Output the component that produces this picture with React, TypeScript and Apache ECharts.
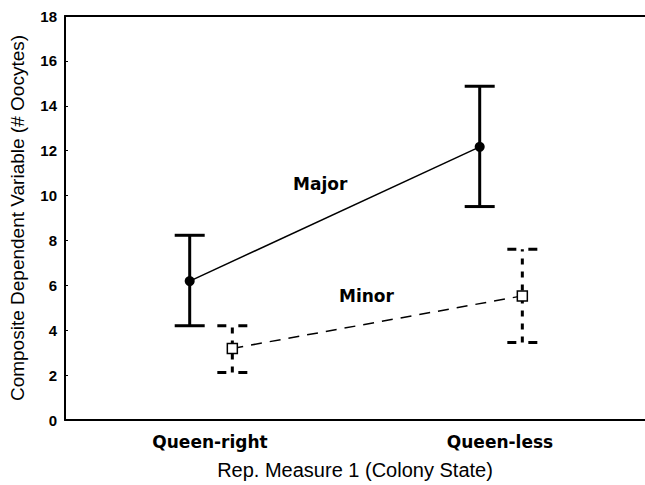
import React, { useEffect, useRef } from "react";
import * as echarts from "echarts";

const categories = ["Queen-right", "Queen-less"];
const majorMean = [6.19, 12.17];
const majorLow = [4.2, 9.51];
const majorHigh = [8.23, 14.87];
const minorMean = [3.19, 5.53];
const minorLow = [2.12, 3.45];
const minorHigh = [4.2, 7.61];
const majorOffset = -0.07;
const minorOffset = 0.077;
const yTicks = [0, 2, 4, 6, 8, 10, 12, 14, 16, 18];

export default function App() {
  const ref = useRef<HTMLDivElement>(null);
  useEffect(() => {
    document.body.style.margin = "0";
    const chart = echarts.init(ref.current!, null, { renderer: "svg" });
    const majorPts = majorMean.map((v, i) => [i + majorOffset, v]);
    const minorPts = minorMean.map((v, i) => [i + minorOffset, v]);
    const majorBars = majorMean.map((_, i) => [i + majorOffset, majorLow[i], majorHigh[i]]);
    const minorBars = minorMean.map((_, i) => [i + minorOffset, minorLow[i], minorHigh[i]]);
    const errRender = (dashed: boolean) => (params: any, api: any) => {
      const x = api.value(0);
      const lo = api.coord([x, api.value(1)]);
      const hi = api.coord([x, api.value(2)]);
      const half = 15;
      const style: any = { stroke: "#000", lineWidth: 3 };
      const capStyle: any = { stroke: "#000", lineWidth: 3 };
      if (dashed) {
        style.lineDash = [6, 7];
        capStyle.lineDash = [9, 12];
      }
      return {
        type: "group",
        children: [
          { type: "line", shape: { x1: lo[0], y1: lo[1], x2: hi[0], y2: hi[1] }, style },
          { type: "line", shape: { x1: hi[0] - half, y1: hi[1], x2: hi[0] + half, y2: hi[1] }, style: capStyle },
          { type: "line", shape: { x1: lo[0] - half, y1: lo[1], x2: lo[0] + half, y2: lo[1] }, style: capStyle },
        ],
      };
    };
    chart.setOption({
      animation: false,
      backgroundColor: "#fff",
      grid: { left: 65, right: 0, top: 16, bottom: 62, containLabel: false },
      xAxis: [
        {
          type: "category",
          data: categories,
          position: "bottom",
          boundaryGap: true,
          axisLine: { lineStyle: { color: "#000", width: 2 } },
          axisTick: { inside: true, length: 3, alignWithLabel: true, lineStyle: { color: "#000" } },
          axisLabel: {
            color: "#000",
            fontFamily: "DejaVu Sans",
            fontWeight: "bold",
            fontSize: 17,
            margin: 13,
          },
          name: "Rep. Measure 1 (Colony State)",
          nameLocation: "middle",
          nameGap: 40,
          nameTextStyle: { color: "#000", fontFamily: "Liberation Sans", fontSize: 20 },
        },
        {
          type: "category",
          data: categories,
          position: "top",
          boundaryGap: true,
          axisLine: { lineStyle: { color: "#000", width: 2 } },
          axisTick: { inside: true, length: 3, alignWithLabel: true, lineStyle: { color: "#000" } },
          axisLabel: { show: false },
        },
        {
          type: "value",
          min: -0.5,
          max: 1.5,
          show: false,
        },
      ],
      yAxis: {
        type: "value",
        min: yTicks[0],
        max: yTicks[yTicks.length - 1],
        interval: 2,
        splitLine: { show: false },
        axisLine: { show: true, onZero: false, lineStyle: { color: "#000", width: 2 } },
        axisTick: { show: true, inside: true, length: 3, lineStyle: { color: "#000" } },
        axisLabel: {
          color: "#000",
          fontFamily: "Liberation Sans",
          fontWeight: "bold",
          fontSize: 15,
          margin: 8,
        },
        name: "Composite Dependent Variable (# Oocytes)",
        nameLocation: "middle",
        nameGap: 38,
        nameTextStyle: { color: "#000", fontFamily: "Liberation Sans", fontSize: 19 },
      },
      series: [
        {
          type: "custom",
          xAxisIndex: 2,
          renderItem: errRender(false),
          data: majorBars,
          z: 1,
        },
        {
          type: "custom",
          xAxisIndex: 2,
          renderItem: errRender(true),
          data: minorBars,
          z: 1,
        },
        {
          type: "line",
          name: "Major",
          xAxisIndex: 2,
          data: majorPts,
          symbol: "circle",
          symbolSize: 10,
          itemStyle: { color: "#000" },
          lineStyle: { color: "#000", width: 1.5 },
          z: 3,
        },
        {
          type: "line",
          name: "Minor",
          xAxisIndex: 2,
          data: minorPts,
          symbol: "rect",
          symbolSize: 10,
          itemStyle: { color: "#fff", borderColor: "#000", borderWidth: 1.5 },
          lineStyle: { color: "#000", width: 1.5, type: [11, 8] },
          z: 3,
        },
      ],
      graphic: [
        {
          type: "text",
          left: 293,
          top: 175,
          style: { text: "Major", fill: "#000", font: "bold 17px 'DejaVu Sans'" },
        },
        {
          type: "text",
          left: 339,
          top: 287,
          style: { text: "Minor", fill: "#000", font: "bold 17px 'DejaVu Sans'" },
        },
      ],
    });
    return () => chart.dispose();
  }, []);
  return <div ref={ref} style={{ width: 645, height: 485 }} />;
}
